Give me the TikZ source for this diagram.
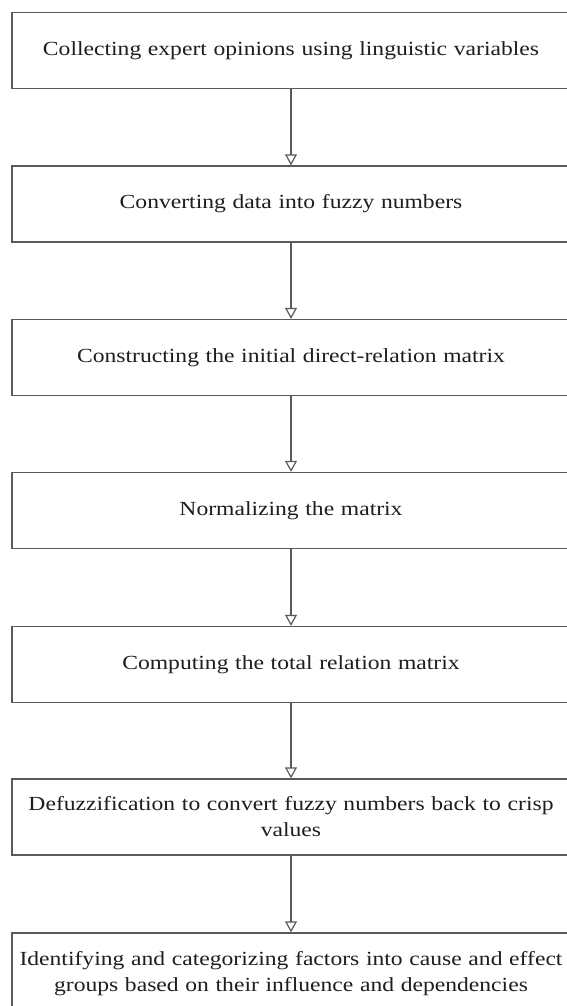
\documentclass[tikz,border=0pt]{standalone}
\usepackage{fontspec}
\setmainfont{Liberation Serif}[FakeStretch=1.18]
\usetikzlibrary{arrows.meta}
\definecolor{edgegray}{HTML}{5A5A5A}
\definecolor{txt}{HTML}{1E1E1E}
\tikzset{
  stepbox/.style={draw=edgegray, line width=1.4pt, minimum width=558pt, minimum height=76pt,
    text width=556pt, align=center, inner sep=0pt, text=txt,
    font=\fontsize{20}{26}\selectfont},
  flow/.style={draw=edgegray, line width=1.4pt, -{Triangle[open, width=12pt, length=11pt, line width=1.2pt]}}
}
\begin{document}
\begin{tikzpicture}[x=1pt,y=-1pt]
\useasboundingbox (0,0) rectangle (567,1006);
\fill[white] (0,0) rectangle (567,1006);
\node[stepbox] (s1) at (291,50.5) {Collecting expert opinions using linguistic variables};
\node[stepbox] (s2) at (291,204) {Converting data into fuzzy numbers};
\node[stepbox] (s3) at (291,357.5) {Constructing the initial direct-relation matrix};
\node[stepbox] (s4) at (291,510.5) {Normalizing the matrix};
\node[stepbox] (s5) at (291,664.5) {Computing the total relation matrix};
\node[stepbox] (s6) at (291,817) {Defuzzification to convert fuzzy numbers back to crisp\\ values};
\node[stepbox, minimum height=82pt] (s7) at (291,974) {Identifying and categorizing factors into cause and effect\\ groups based on their influence and dependencies};
\foreach \a/\b in {s1/s2,s2/s3,s3/s4,s4/s5,s5/s6,s6/s7}
  \draw[flow] (\a.south) -- (\b.north);
\end{tikzpicture}
\end{document}
